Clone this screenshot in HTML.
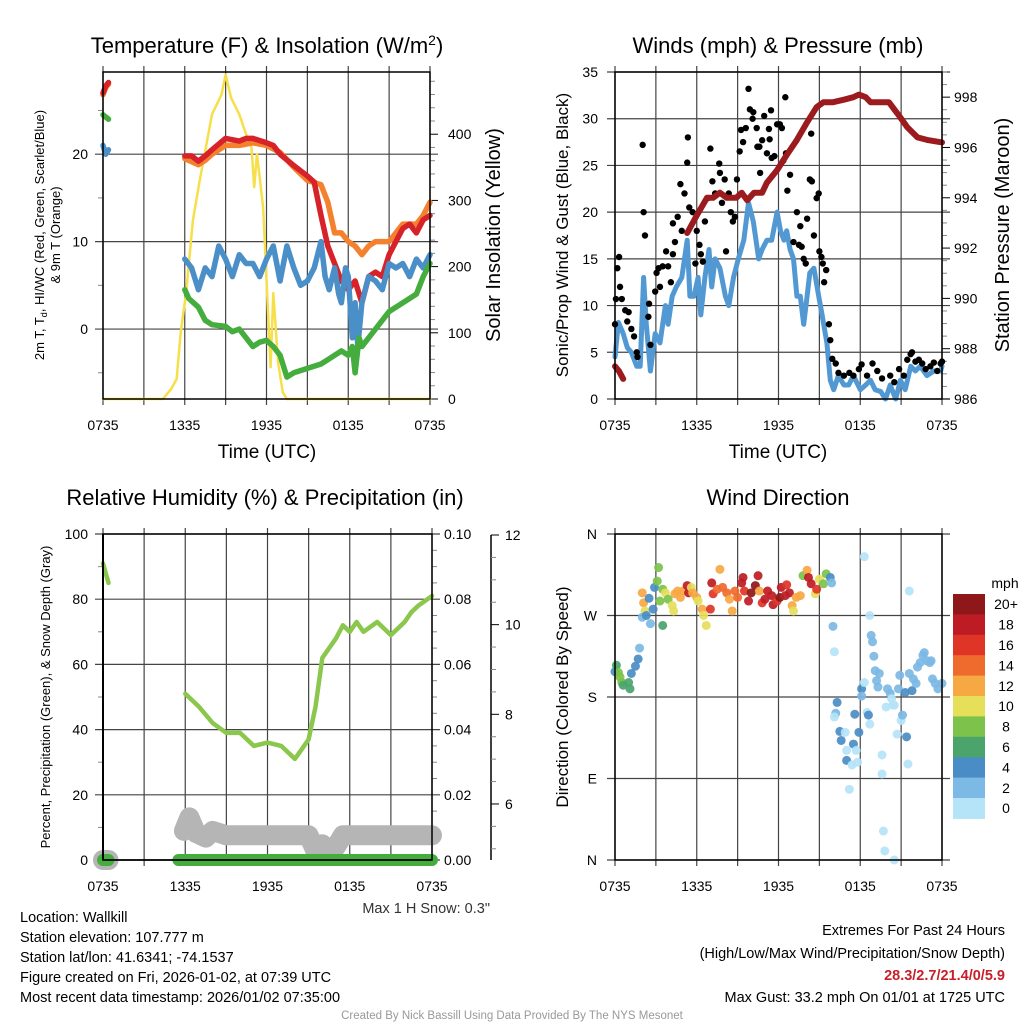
<!DOCTYPE html>
<html><head><meta charset="utf-8"><style>
html,body{margin:0;padding:0;background:#fff}
svg{display:block}
text{font-family:"Liberation Sans",Arial,sans-serif;fill:#000}
</style></head><body>
<svg id="chart" width="1024" height="1024" viewBox="0 0 1024 1024" xmlns="http://www.w3.org/2000/svg">
<g id="g"></g>
<g font-size="14.5">
<text x="20" y="922">Location: Wallkill</text>
<text x="20" y="942">Station elevation: 107.777 m</text>
<text x="20" y="962">Station lat/lon: 41.6341; -74.1537</text>
<text x="20" y="982">Figure created on Fri, 2026-01-02, at 07:39 UTC</text>
<text x="20" y="1002">Most recent data timestamp: 2026/01/02 07:35:00</text>
<text x="1005" y="935" text-anchor="end">Extremes For Past 24 Hours</text>
<text x="1005" y="958" text-anchor="end">(High/Low/Max Wind/Precipitation/Snow Depth)</text>
<text x="1005" y="980" text-anchor="end" font-weight="bold" style="fill:#c8202a">28.3/2.7/21.4/0/5.9</text>
<text x="1005" y="1002" text-anchor="end">Max Gust: 33.2 mph On 01/01 at 1725 UTC</text>
<text x="490" y="913" text-anchor="end" style="fill:#333">Max 1 H Snow: 0.3"</text>
<text x="512" y="1019" text-anchor="middle" font-size="11.5" style="fill:#999">Created By Nick Bassill Using Data Provided By The NYS Mesonet</text>
</g>
</svg>
<script>
// ---- Temperature panel data (hours since 07:35 UTC) ----
const tempTime = [0,0.2,0.4,null,6,6.5,7,7.5,8,9,10,10.5,11,12,12.5,13,14,15,15.5,16,16.5,17,17.5,18,18.5,19,19.5,20,20.5,21,21.5,22,22.5,23,23.5,24];
const tempRed = [27,27.8,28.2,null,19.8,19.8,19.2,19.8,20.5,21.8,21.5,21.8,21.8,21.3,21,20,18.7,17.5,16.8,13,9.5,7.5,5.5,4.5,5.5,3,6,6.5,6,8.5,10,11.5,12,11,12.5,13];
const tempOrangeTime = [0,0.2,0.4,null,6,7,7.5,8,9,10,11,12,13,14,15,16,16.5,17,17.5,18,18.5,19,19.5,20,21,21.5,22,23,23.5,24];
const tempOrange = [26.8,27.6,28,null,19.5,18.8,19.3,20,21,21,21.3,21,20.2,18.5,17,16.5,14.5,11,11,10,9.5,8.5,9.5,10,10,11,12,12,13,14.5];
const tdTime = [0,0.4,null,6,6.3,7,7.5,8,9,9.5,10,10.5,11,11.5,12,12.5,13,13.5,14,15,16,16.5,17,17.5,18,18.3,18.5,18.8,19,19.5,20,20.5,21,22,23,23.5,24];
const tdGreen = [24.5,24,null,4.5,3.5,2.5,1,0.5,0.3,-0.3,0,-1,-2,-1.5,-1.3,-2,-3,-5.5,-5,-4.5,-4,-3.5,-3,-2.5,-3,-2,-5,-1,-2,-1,0,1,2,3,4,6,7.5];
const wcTime = [0,0.2,0.4,null,6,6.5,7,7.5,8,8.5,9,9.5,10,10.5,11,11.5,12,12.5,13,13.5,14,14.5,15,15.5,16,16.3,16.6,17,17.3,17.5,17.8,18,18.3,18.5,18.7,19,19.5,20,20.5,21,21.5,22,22.5,23,23.5,24];
const wcBlue = [21,20,20.5,null,8,7,4.5,7,6,9.5,8,6,8.5,7.5,7.5,6,8,9.5,5.5,9.5,7,5,5.5,7,10,6,4.5,7,4,3,7,6,-1,3,-2,3,6,5.5,4.5,7.5,7,7.5,6,8,7,8.5];
const solarTime = [0,4.4,5,5.4,5.7,6.1,6.6,7.1,8,8.7,9,9.4,10,10.5,10.9,11.1,11.3,11.75,12.3,12.5,12.85,13.2,13.5,24];
const solarVals = [0,0,15,30,100,160,270,330,430,460,490,455,430,400,380,320,370,290,48,160,55,10,0,0];
// ---- Wind panel data ----
const windTime = [0,0.25,0.6,0.9,1.2,1.6,1.85,2.1,2.3,2.6,2.95,3.3,3.7,3.9,4.2,4.5,4.9,5.3,5.5,5.8,6.1,6.3,6.6,6.9,7.1,7.35,7.7,8.1,8.35,8.7,9.05,9.45,9.8,10.15,10.55,10.8,11.15,11.5,11.9,12.15,12.4,12.6,12.85,13.1,13.35,13.6,13.85,14.1,14.3,14.6,14.95,15.2,15.55,15.8,16.05,16.4,16.8,17.15,17.5,18,18.4,18.75,19.1,19.5,19.85,20.2,20.6,20.95,21.3,21.7,22.05,22.4,22.9,23.4,23.9,24];
const windSpeed = [4.5,8.2,7,5.5,5,3.5,3.5,13,8,3,7,6,10,8,11,12,13,17,11,11,13,9,13,16,12,15,14,11,10,13,15,17,21,19,15,16,17,17,20,18,17,18,16,15,11,11,8,11,13.5,14,11,9,6,2,1,2.5,1.5,1.5,2.5,1,1.5,2,1,0.8,0,1.5,0,2,1,3.5,3,3.5,2.5,3,3,3.5];
const gustTime = [0,0.07,0.17,0.3,0.37,0.5,0.75,0.9,1,1.2,1.4,1.6,1.65,2.03,2.1,2.2,2.45,2.5,2.6,2.95,3.05,3.2,3.3,3.5,3.75,3.9,4.1,4.25,4.25,4.4,4.6,4.8,4.9,5.1,5.3,5.35,5.45,5.7,5.9,6,6.2,6.3,6.45,6.6,6.8,7,7.15,7.35,7.65,7.7,7.85,8.05,8.15,8.35,8.5,8.65,8.8,8.95,9.15,9.25,9.4,9.6,9.8,9.9,10.1,10.15,10.4,10.45,10.6,10.65,10.8,10.95,11.15,11.3,11.35,11.45,11.5,11.7,11.9,12.1,12.25,12.35,12.5,12.55,12.65,12.85,13.1,13.35,13.5,13.6,13.7,13.85,14,14.1,14.3,14.4,14.45,14.6,14.8,14.95,15,15.15,15.25,15.35,15.5,15.7,15.8,15.95,16.2,16.4,16.8,17.2,17.5,17.9,18.1,18.5,18.9,19.25,19.6,20.2,20.5,20.85,21.2,21.45,21.7,21.8,22.05,22.3,22.55,22.8,23.15,23.4,23.65,23.9,24];
const gustSpeed = [8,10.7,14,15.2,12,10.7,9.5,8.3,9.3,7.5,6.7,5,4.5,27.2,20,17.5,8.8,10.2,5.8,11.5,13.5,14,12,14.2,15.8,14.2,12.5,15.5,18.8,16.8,19.5,23,18,22,25.3,28,20.5,20,14.5,18,16.5,15.5,14.7,19,21.5,26.8,23.3,22,25.2,24.2,21,23.5,15.8,22,20,19,19.5,23.5,26.5,28.8,27.5,29,33.2,31,30,30.7,29,27,27,24.2,27.7,30.3,26.3,28.9,27.8,30.9,25.8,26,29.4,29.4,29,25.5,32.3,26.3,22.3,24,16.8,20,16.5,18.5,16.3,15,14.5,19.3,23.5,28.4,23.3,17.5,21.5,22,15.8,15.2,14.5,12.5,13.8,8,6.3,4.3,3.8,2.8,2.5,2.8,2.5,3.2,3.7,2.5,3.8,3,2.2,2.5,1.8,3.2,2.5,4.2,4.8,5,4,4.2,3.8,3.2,3.5,3.9,3,3.8,4];
const presTime = [0,0.3,0.6,null,5.3,6,6.75,7.2,7.7,8.2,8.9,9.3,9.7,10.2,10.8,11.15,11.9,12.6,13.35,14.1,14.8,15.3,16,16.8,17.5,17.9,18.4,18.75,19.5,20.1,20.8,21.45,22.2,22.9,24];
const presVals = [987.3,987.1,986.8,null,992.6,993.3,994,994,994.2,994,994,994.2,993.9,994.2,994.2,994.6,995.1,995.7,996.3,997,997.6,997.8,997.8,997.9,998,998.1,998,997.8,997.8,997.8,997.3,996.8,996.4,996.3,996.2];
// ---- RH / precip / snow ----
const rhTime = [0,0.2,0.4,null,6,7,8,9,10,11,12,13,14,14.5,15,15.5,16,16.5,17,17.5,18,18.5,19,20,20.5,21,22,22.5,23,24];
const rhVals = [91,88,85,null,51,47,42,39,39,35,36,35,31,34,37,47,62,65,68,72,70,73,70,73,71,69,73,76,78,81];
const precipTime = [0,0.4,null,5.5,24];
const precipVals = [0,0,null,0,0];
const snowTime = [0,0.4,null,5.9,6.3,6.8,7.5,8,9,15,15.5,16,16.5,17,17.5,24];
const snowVals = [4.75,4.75,null,5.4,5.7,5.35,5.25,5.4,5.3,5.3,4.95,5.1,4.9,5.05,5.3,5.3];
// ---- Wind direction ----
const dirTime = [0,0.1,0.25,0.37,0.5,0.6,1.0,1.1,1.2,1.5,1.7,1.8,2.0,2.1,2.2,2.0,2.3,2.5,2.6,2.8,2.9,3.1,3.2,3.3,3.5,3.5,3.7,3.9,4.2,4.3,4.4,4.6,4.8,5.0,5.3,5.4,5.6,5.7,6.0,6.1,6.4,6.5,6.7,7.0,7.1,7.2,7.5,7.7,7.9,8.2,8.4,8.6,8.8,9.0,9.3,9.4,9.5,9.8,10.0,10.3,10.5,10.6,10.8,11.0,11.2,11.5,11.6,11.9,12.1,12.2,12.5,12.6,12.8,13.0,13.1,13.3,13.6,13.8,14.1,14.2,14.4,14.7,14.8,15.0,15.3,15.5,15.8,15.9,16.0,16.1,16.3,16.2,16.1,16.5,16.6,16.9,17.0,17.0,17.2,17.4,17.5,17.6,17.7,17.8,17.9,18.1,18.1,18.3,18.3,18.5,18.6,18.7,18.7,18.8,18.9,19.0,19.1,19.2,19.3,19.4,19.6,19.6,19.7,19.8,19.9,20.0,20.2,20.3,20.4,20.5,20.5,20.7,20.8,20.9,21.0,21.1,21.3,21.4,21.5,21.6,21.6,21.8,21.9,22.1,22.2,22.4,22.6,22.7,22.9,23.1,23.2,23.3,23.5,23.7,24.0];
const dirDeg = [208,215,207,202,196,193,196,189,206,214,222,234,295,284,275,268,270,289,261,277,301,308,323,286,259,299,295,288,281,275,294,297,290,297,303,295,301,295,290,286,277,270,259,277,306,294,299,321,301,295,288,275,297,290,306,312,297,286,295,303,314,297,284,288,297,292,282,286,290,301,292,304,295,281,275,290,292,314,320,312,305,294,299,310,305,316,312,306,258,230,174,162,158,142,132,141,110,121,78,105,128,161,121,108,141,189,181,196,335,163,160,150,270,248,241,225,209,198,191,206,116,95,32,10,169,189,184,178,171,0,171,139,189,204,154,160,185,136,106,297,206,187,200,195,213,218,226,229,220,218,220,200,195,189,195];
const dirSpeed = [4,6,8,8,8,6,6,6,4,4,4,2,12,12,10,2,4,4,2,4,4,8,8,8,6,8,10,8,10,10,12,12,12,12,18,18,10,12,12,10,12,10,10,16,18,16,14,12,14,14,12,12,14,14,18,18,16,18,20,20,18,12,16,18,18,18,18,16,20,18,18,16,18,12,10,12,12,8,12,18,18,10,16,10,8,8,4,2,2,0,4,2,0,4,4,0,4,0,0,0,4,4,0,0,4,4,2,0,0,0,4,0,0,2,2,2,2,2,2,2,0,0,0,0,0,2,2,0,0,0,0,0,2,2,0,2,4,4,0,0,2,4,2,2,2,2,2,2,2,2,2,2,2,2,2];
const speedBins = ["0","2","4","6","8","10","12","14","16","18","20+"];
const binColors = ["#b5e3f7","#7cb9e4","#4a8dc6","#4aa46c","#7cc24b","#e5df5a","#f6a843","#ef6a2d","#de3527","#be1c24","#8e1719"];
const hourTicks = ["0735","1335","1935","0135","0735"];

const NS="http://www.w3.org/2000/svg";
const G=document.getElementById('g');
function el(tag,attrs,parent){const e=document.createElementNS(NS,tag);for(const k in attrs)e.setAttribute(k,attrs[k]);(parent||G).appendChild(e);return e;}
function scale(d0,d1,p0,p1){return v=>p0+(v-d0)/(d1-d0)*(p1-p0);}
function pathD(ts,vs,sx,sy){let d='',pen=false;for(let i=0;i<ts.length;i++){if(ts[i]===null||vs[i]===null){pen=false;continue;}d+=(pen?'L':'M')+sx(ts[i]).toFixed(1)+' '+sy(vs[i]).toFixed(1);pen=true;}return d;}
function txt(x,y,s,attrs){const t=el('text',Object.assign({x:x,y:y},attrs||{}));t.textContent=s;return t;}

function frame(x0,x1,y0,y1,name){
  const sx=scale(0,24,x0,x1);
  for(let h=0;h<=24;h+=3){
    const l=el('line',{x1:sx(h),x2:sx(h),y1:y0-6,y2:y1+6,stroke:'#444','stroke-width':1.2});
    
    
  }
  hourTicks.forEach((lab,i)=>{
    const t=txt(sx(i*6),y1+31,lab,{'text-anchor':'middle','font-size':14});
    
    
  });
  return sx;
}
function hgrid(x0,x1,y,name){const l=el('line',{x1:x0-8,x2:x1+8,y1:y,y2:y,stroke:'#444','stroke-width':1.2});}
function minorTick(x,y,dir,name){const l=el('line',{x1:x,x2:x+dir*5,y1:y,y2:y,stroke:'#888','stroke-width':1});}
function box(x0,x1,y0,y1,name){const r=el('rect',{x:x0,y:y0,width:x1-x0,height:y1-y0,fill:'none',stroke:'#000','stroke-width':1.5});}
function line(ts,vs,sx,sy,color,w,name){const p=el('path',{d:pathD(ts,vs,sx,sy),fill:'none',stroke:color,'stroke-width':w,'stroke-linejoin':'round','stroke-linecap':'round'});return p;}
function vtitle(x,y,s,size,name){const t=txt(x,y,s,{'text-anchor':'middle','font-size':size,transform:`rotate(-90 ${x} ${y})`});return t;}

// ===== Panel 1 =====
(function(){
  const x0=103,x1=430,y0=72,y1=399;
  const sx=frame(x0,x1,y0,y1,'temp');
  const sy=scale(-8,29.4,y1,y0), sr=scale(0,494,y1,y0);
  [0,10,20].forEach(v=>{hgrid(x0,x1,sy(v),'temp');const t=txt(x0-15,sy(v)+5,String(v),{'text-anchor':'end','font-size':14});});
  [-5,5,15,25].forEach(v=>minorTick(x0,sy(v),-1,'temp'));
  for(let v=0;v<=480;v+=20){ if(v%100===0){const l=el('line',{x1:x1,x2:x1+8,y1:sr(v),y2:sr(v),stroke:'#000'});const t=txt(x1+18,sr(v)+5,String(v),{'font-size':14});} else minorTick(x1,sr(v),1,'solar'); }
  line(solarTime,solarVals,sx,sr,'#f7df4a',2.5,'solar-insolation-line');
  line(tempOrangeTime,tempOrange,sx,sy,'#f4812d',5.5,'temp-9m-line');
  line(tempTime,tempRed,sx,sy,'#d62228',5.5,'temp-2m-line');
  line(wcTime,wcBlue,sx,sy,'#4b8fc8',5.5,'windchill-line');
  line(tdTime,tdGreen,sx,sy,'#45ad3e',5.5,'dewpoint-line');
  box(x0,x1,y0,y1,'temp');
  const tt=txt(267,53,'Temperature (F) & Insolation (W/m',{'text-anchor':'middle','font-size':22});
  const sup=el('tspan',{dy:-8,'font-size':14},tt);sup.textContent='2';
  const cl=el('tspan',{dy:8},tt);cl.textContent=')';
  
  const xt=txt(267,458,'Time (UTC)',{'text-anchor':'middle','font-size':19});
  const lt=vtitle(44,235,'',13,'temp-y-axis-title');
  lt.innerHTML='2m T, T<tspan font-size="9" dy="3">d</tspan><tspan dy="-3">, HI/WC (Red, Green, Scarlet/Blue)</tspan>';
  vtitle(60,235,'& 9m T (Orange)',13,'temp-y-axis-title-line2');
  vtitle(500,235,'Solar Insolation (Yellow)',20,'solar-y-axis-title');
})();

// ===== Panel 2 =====
(function(){
  const x0=615,x1=942,y0=72,y1=399;
  const sx=frame(x0,x1,y0,y1,'wind');
  const sy=scale(0,35,y1,y0), sp=scale(986,999,y1,y0);
  for(let v=0;v<=35;v+=5){hgrid(x0,x1,sy(v),'wind');const t=txt(x0-17,sy(v)+5,String(v),{'text-anchor':'end','font-size':14});}
  for(let v=986;v<=999;v+=0.5){ if(v%2===0){const l=el('line',{x1:x1,x2:x1+8,y1:sp(v),y2:sp(v),stroke:'#000'});const t=txt(x1+12,sp(v)+5,String(v),{'font-size':14});} else minorTick(x1,sp(v),1,'pressure'); }
  line(windTime,windSpeed,sx,sy,'#5299d3',5,'wind-speed-line');
  gustTime.forEach((t,i)=>{const c=el('circle',{cx:sx(t),cy:sy(gustSpeed[i]),r:3.2,fill:'#000'});
    
    });
  line(presTime,presVals,sx,sp,'#9b1b1e',6,'pressure-line');
  box(x0,x1,y0,y1,'wind');
  const tt=txt(778,53,'Winds (mph) & Pressure (mb)',{'text-anchor':'middle','font-size':22});
  const xt=txt(778,458,'Time (UTC)',{'text-anchor':'middle','font-size':19});
  vtitle(568,235,'Sonic/Prop Wind & Gust (Blue, Black)',17,'wind-y-axis-title');
  vtitle(1009,235,'Station Pressure (Maroon)',20,'pressure-y-axis-title');
})();

// ===== Panel 3 =====
(function(){
  const x0=103,x1=432,y0=534,y1=860;
  const sx=frame(x0,x1,y0,y1,'rh');
  const sy=scale(0,100,y1,y0), sn=scale(4.75,12,y1,535);
  for(let v=0;v<=100;v+=20){hgrid(x0,x1,sy(v),'rh');const t=txt(x0-15,sy(v)+5,String(v),{'text-anchor':'end','font-size':14});
    const t2=txt(x1+12,sy(v)+5,(v/1000).toFixed(2),{'font-size':14});}
  for(let v=10;v<100;v+=20)minorTick(x0,sy(v),-1,'rh');
  for(let v=5;v<100;v+=5){if(v%20)minorTick(x1,sy(v),1,'precip');}
  const ax=el('line',{x1:491,x2:491,y1:535,y2:860,stroke:'#000','stroke-width':1.5});
  [6,8,10,12].forEach(v=>{const l=el('line',{x1:491,x2:499,y1:sn(v),y2:sn(v),stroke:'#000'});
    const t=txt(505,sn(v)+5,String(v),{'font-size':14});});
  for(let v=5;v<12;v+=0.5){if(v%2)minorTick(491,sn(v),1,'snow');}
  line(snowTime,snowVals,sx,sn,'#b5b5b5',20,'snow-depth-line');
  line(precipTime,precipVals,sx,sy,'#45ad3e',12,'precipitation-line');
  line(rhTime,rhVals,sx,sy,'#8bc74d',4.5,'relative-humidity-line');
  const lx=el('line',{x1:x0,x2:x0,y1:y0,y2:y1,stroke:'#000','stroke-width':2});
  const bx=el('line',{x1:x0,x2:x1,y1:y1,y2:y1,stroke:'#000','stroke-width':1.5});
  box(x0,x1,y0,y1,'rh');
  const tt=txt(265,505,'Relative Humidity (%) & Precipitation (in)',{'text-anchor':'middle','font-size':22});
  vtitle(50,697,'Percent, Precipitation (Green), & Snow Depth (Gray)',13,'rh-y-axis-title');
})();

// ===== Panel 4 =====
(function(){
  const x0=615,x1=942,y0=534,y1=860;
  const sx=frame(x0,x1,y0,y1,'dir');
  const sy=scale(0,360,y1,y0);
  [[360,'N'],[270,'W'],[180,'S'],[90,'E'],[0,'N']].forEach(([v,s])=>{hgrid(x0,x1,sy(v),'dir');const t=txt(x0-18,sy(v)+5,s,{'text-anchor':'end','font-size':14});});
  dirTime.forEach((t,i)=>{const idx=Math.min(10,Math.round(dirSpeed[i]/2));
    const c=el('circle',{cx:sx(t),cy:sy(dirDeg[i]),r:4.5,fill:binColors[idx],'fill-opacity':0.92});
    
    });
  box(x0,x1,y0,y1,'dir');
  const tt=txt(778,505,'Wind Direction',{'text-anchor':'middle','font-size':22});
  vtitle(568,697,'Direction (Colored By Speed)',17,'dir-y-axis-title');
  const cbTop=594,h=20.4;
  const mt=txt(1005,588,'mph',{'text-anchor':'middle','font-size':14});
  speedBins.forEach((lab,i)=>{const k=10-i;
    const r=el('rect',{x:953,y:cbTop+i*h,width:32,height:h+0.5,fill:binColors[k]});
    
    
    const t=txt(1006,cbTop+i*h+h/2+5,speedBins[k],{'text-anchor':'middle','font-size':14});
    
    });
})();
</script>
</body></html>
